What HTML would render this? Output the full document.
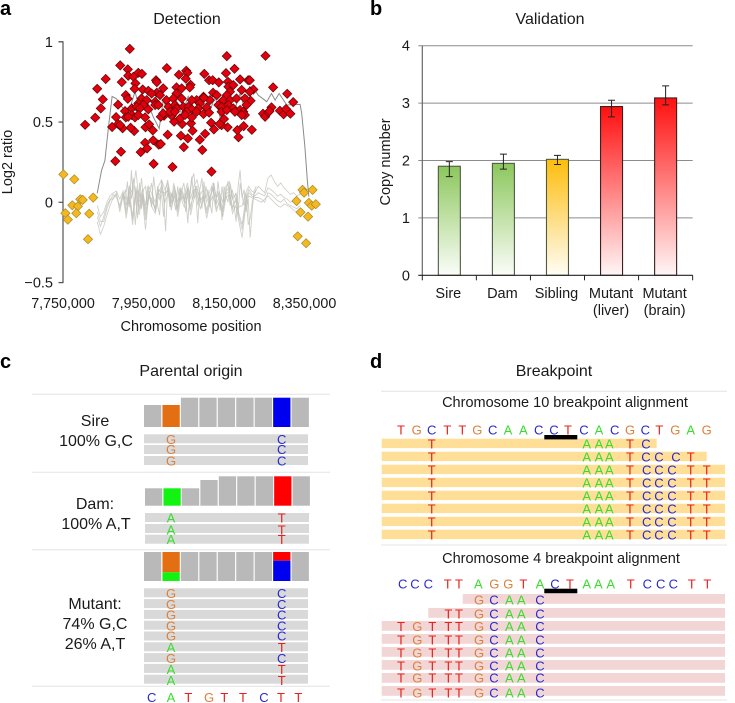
<!DOCTYPE html>
<html>
<head>
<meta charset="utf-8">
<title>Detection, validation, parental origin and breakpoint</title>
<style>
html,body{margin:0;padding:0;background:#fff;}
svg{display:block;font-family:"Liberation Sans",sans-serif;fill:#1a1a1a;}
</style>
</head>
<body>
<svg id="fig" xmlns="http://www.w3.org/2000/svg" width="735" height="703" viewBox="0 0 735 703">
<defs>
<linearGradient id="gGreen" x1="0" y1="0" x2="0" y2="1"><stop offset="0" stop-color="#8cc75c"/><stop offset="1" stop-color="#fbfdf9"/></linearGradient>
<linearGradient id="gYellow" x1="0" y1="0" x2="0" y2="1"><stop offset="0" stop-color="#fdbd0c"/><stop offset="1" stop-color="#fffdf6"/></linearGradient>
<linearGradient id="gRed" x1="0" y1="0" x2="0" y2="1"><stop offset="0" stop-color="#ff0f0f"/><stop offset="1" stop-color="#fff6f6"/></linearGradient>
</defs>
<text x="0" y="15" font-size="20" font-weight="bold" fill="#000">a</text>
<text x="370" y="15" font-size="20" font-weight="bold" fill="#000">b</text>
<text x="0" y="368" font-size="20" font-weight="bold" fill="#000">c</text>
<text x="370" y="368" font-size="20" font-weight="bold" fill="#000">d</text>
<text x="187" y="24" font-size="16" text-anchor="middle">Detection</text>
<text x="550" y="24" font-size="16" text-anchor="middle">Validation</text>
<text x="191" y="376" font-size="16" text-anchor="middle">Parental origin</text>
<text x="554" y="376" font-size="16" text-anchor="middle">Breakpoint</text>
<text transform="translate(12,162) rotate(-90)" font-size="14.5" text-anchor="middle">Log2 ratio</text>
<text x="191" y="331" font-size="14.5" text-anchor="middle">Chromosome position</text>
<text transform="translate(390,162) rotate(-90)" font-size="14.5" text-anchor="middle">Copy number</text>
<text x="95" y="426" font-size="16" text-anchor="middle">Sire</text>
<text x="96" y="446" font-size="16" text-anchor="middle">100% G,C</text>
<text x="95" y="509" font-size="16" text-anchor="middle">Dam:</text>
<text x="96" y="529" font-size="16" text-anchor="middle">100% A,T</text>
<text x="95" y="609" font-size="16" text-anchor="middle">Mutant:</text>
<text x="95" y="629" font-size="16" text-anchor="middle">74% G,C</text>
<text x="95" y="649" font-size="16" text-anchor="middle">26% A,T</text>
<text x="565" y="407" font-size="14.5" text-anchor="middle">Chromosome 10 breakpoint alignment</text>
<text x="561" y="563" font-size="14.5" text-anchor="middle">Chromosome 4 breakpoint alignment</text>
</svg>
<script>
// Panel a data
const redPos=[7916,8157,8253,7892,7911,8008,8056,8176,8155,8101,8038,8059,7937,7946,7912,7925,7856,7896,7930,7981,7983,8055,8113,8122,8137,8160,8190,8210,8214,8067,7835,7928,7948,8272,8307,7849,8322,7906,7911,7844,7887,7830,7805,7882,7872,7887,7894,7880,7975,8022,8119,7943,7954,7959,7974,7988,7993,8010,8043,8050,8060,8090,8096,8103,8125,8118,8186,8183,8199,8219,8159,8144,8139,8150,8072,8068,8070,8046,8041,8026,8020,8001,7993,7955,7964,7973,7927,7918,7898,7892,8247,8252,8260,8268,8263,8289,8298,8304,8315,8216,7962,7983,7999,8032,8045,8065,8099,8123,8161,8173,8194,8223,8214,8165,8157,7970,7991,8032,7945,7958,8007,8024,8045,8082,8090,8115,8132,8100,8148,8165,8181,8202,7979,8070,7937,7950,7979,7921,7933,7941,7962,7987,8012,8028,8049,8061,8086,8107,8136,8144,8161,8173,8190,8206,7904,8032,8070,7906,7921,7929,7937,7954,7999,8016,8028,8057,8082,8099,8113,8144,8157,8177,8198,8202,7912,8053,8194];
const redVal=[.956,.911,.913,.853,.828,.836,.82,.832,.805,.80,.795,.807,.807,.80,.788,.782,.768,.749,.741,.761,.749,.77,.761,.761,.747,.751,.766,.761,.761,.732,.707,.707,.703,.716,.676,.641,.624,.668,.645,.585,.608,.527,.483,.531,.469,.488,.315,.257,.239,.22,.191,.313,.371,.336,.386,.359,.363,.421,.415,.344,.398,.39,.326,.427,.454,.496,.405,.45,.475,.452,.467,.481,.488,.519,.446,.492,.529,.488,.523,.502,.539,.539,.533,.467,.486,.448,.444,.465,.461,.481,.552,.533,.56,.591,.568,.571,.548,.581,.552,.633,.695,.683,.71,.716,.71,.716,.658,.683,.72,.73,.70,.703,.689,.689,.668,.678,.668,.678,.647,.637,.637,.647,.647,.637,.616,.637,.668,.651,.637,.637,.647,.647,.627,.637,.616,.606,.606,.585,.595,.585,.579,.606,.595,.606,.595,.595,.585,.591,.606,.595,.606,.585,.575,.606,.568,.585,.579,.529,.544,.529,.544,.529,.554,.564,.564,.564,.564,.55,.558,.564,.575,.564,.564,.544,.533,.544,.544];
const yellowPos=[7751,7778,7825,7793,7799,7773,7787,7756,7783,7815,7762,7812,8345,8349,8370,8330,8361,8368,8378,8340,8359,8333,8354];
const yellowVal=[.174,.143,.029,.019,.015,-.019,-.025,-.068,-.068,-.071,-.108,-.23,.077,.06,.077,.008,-.004,-.021,-.012,-.062,-.089,-.212,-.255];
const darkPos=[7835,7846,7854,7863,7872,7883,7896,7912,7929,7941,7958,7974,7989,7999,8012,8028,8045,8061,8078,8094,8111,8128,8140,8157,8173,8190,8202,8214,8227,8235,8256,8268,8277,8287,8306,8339,8343,8351,8357,8361];
const darkVal=[.056,.20,.26,.47,.66,.645,.595,.55,.69,.575,.637,.533,.46,.637,.55,.66,.55,.66,.575,.637,.54,.66,.53,.637,.55,.68,.575,.72,.70,.668,.627,.678,.637,.678,.606,.61,.554,.346,.139,.035];
const palePos=[7835,7843,7851,7859,7867,7875,7883,7891,7899,7907,7915,7923,7931,7939,7947,7955,7963,7971,7979,7987,7995,8003,8011,8019,8027,8035,8043,8051,8059,8067,8075,8083,8091,8099,8107,8115,8123,8131,8139,8147,8155,8163,8171,8179,8187,8195,8203,8211,8219,8227,8235,8243,8251,8259,8267,8275,8283,8291,8299,8307,8315,8323,8331,8339];
const paleA=[-.02,-.09,-.06,0,.04,.06,.07,.02,.07,-.02,.1,.05,.2,0,.08,-.02,.1,.05,0,.1,.14,.08,.12,.03,.1,0,.09,.04,.12,.02,.1,.14,.05,.08,0,.07,.12,.03,.06,0,.1,.13,.02,.05,-.03,-.02,.05,.1,.07,.06,.1,.08,.06,.15,.17,.13,.1,.12,.09,.07,.05,.06,.04,.05];
const paleB=[-.12,-.2,-.15,-.08,-.02,.03,.05,-.04,.05,-.1,.04,-.14,.06,-.08,.03,-.17,.05,-.03,-.07,.03,.08,0,.05,-.05,.06,-.09,.03,-.03,.05,-.08,.02,.06,-.04,.02,-.1,0,.04,-.06,.02,-.09,.03,.05,-.07,-.02,-.12,-.22,-.05,.04,.03,.02,.01,0,.02,.04,.02,0,-.02,-.03,-.01,-.02,-.03,-.05,-.06,-.05];
const paleC=[-.06,-.12,-.12,-.04,.01,.05,.03,-.02,.06,-.05,.07,-.09,.08,-.03,.06,-.08,.07,0,-.03,.06,.1,.04,.09,-.01,.08,-.04,.06,0,.09,-.03,.06,.1,0,.05,-.05,.04,.08,-.01,.04,-.05,.07,.09,-.03,.01,-.07,-.14,0,.08,.05,.04,.06,.05,.04,.09,.08,.06,.04,.05,.03,.02,0,.01,-.02,0];
const paleD=[-.09,-.15,-.09,-.02,.02,.02,.06,-.06,.04,-.07,.02,-.11,.1,-.05,.05,-.11,.03,.02,-.05,.08,.06,.06,.07,-.03,.04,-.06,.08,.02,.07,-.05,.08,.08,.02,.03,-.07,.02,.1,-.04,0,-.06,.05,.07,-.05,.03,-.09,-.17,-.02,.06,.04,.03,.03,.02,0,.06,.05,.03,.01,0,.02,-.01,-.02,-.03,-.04,-.02];
const paleFinePos=[7900,7905,7910,7915,7920,7925,7930,7935,7940,7945,7950,7955,7960,7965,7970,7975,7980,7985,7990,7995,8000,8005,8010,8015,8020,8025,8030,8035,8040,8045,8050,8055,8060,8065,8070,8075,8080,8085,8090,8095,8100,8105,8110,8115,8120,8125,8130,8135,8140,8145,8150,8155,8160,8165,8170,8175,8180,8185,8190,8195,8200,8205,8210,8215,8220,8225,8230];
const paleE=[.05,.02,.13,-.03,.2,0,-.14,.08,.03,.15,.02,-.05,.1,.05,-.03,.16,.06,-.02,-.08,.14,.03,-.18,.1,.05,0,.12,.06,-.04,.09,.02,.04,-.06,.1,.03,.14,.18,.05,-.13,.08,.15,0,.1,.04,-.03,.1,.06,-.02,.13,.03,-.11,.1,.04,0,.12,.05,-.02,-.12,.1,.2,.03,.08,-.06,.02,-.22,-.05,.07,.1];
const paleF=[.03,.08,-.02,.1,.02,.15,.04,-.1,.12,-.04,.08,.1,-.02,.06,.12,0,-.06,.1,.02,.05,-.09,.08,.14,-.03,.06,.02,-.05,.1,0,.07,.12,.03,-.13,.06,.16,.02,.1,-.02,.06,-.04,.13,.02,.08,0,-.07,.12,.03,.07,-.05,.1,0,.06,.13,-.02,.08,.03,.06,-.08,.12,.04,-.02,.06,-.14,-.1,0,.05,.08];
const yTicksA=[1,0.5,0,-0.5];
const yTickLabelsA=['1','0.5','0','\u22120.5'];
const xTicksA=[7750,7950,8150,8350];
const xTickLabelsA=['7,750,000','7,950,000','8,150,000','8,350,000'];

// Panel b data
const categories=['Sire','Dam','Sibling','Mutant','Mutant'];
const categorySub=['','','','(liver)','(brain)'];
const copyNumber=[1.9,1.95,2.02,2.94,3.09];
const errLow=[1.72,1.85,1.93,2.76,2.97];
const errHigh=[1.98,2.11,2.09,3.05,3.3];
const barFills=['gGreen','gGreen','gYellow','gRed','gRed'];
const yTicksB=[0,1,2,3,4];

const svg=document.getElementById('fig');
const NS='http://www.w3.org/2000/svg';
function mk(tag,attrs,parent){
  const e=document.createElementNS(NS,tag);
  for(const k in attrs){e.setAttribute(k,attrs[k]);}
  (parent||svg).appendChild(e);
  return e;
}
function group(name){
  const g=mk('g',{});
  
  
  return g;
}

// ---------- Panel a ----------
const xA=k=>63+(k-7750)*0.4025;
const yA=v=>202.3-v*160.5;
const gA=group('detection-scatter-chart');
const axA=mk('path',{d:`M58.5 ${yA(1)}H63V${yA(-0.5)}H58.5`,fill:'none',stroke:'#555','stroke-width':1.2},gA);


yTicksA.forEach((t,i)=>{
  const tk=mk('line',{x1:58.5,x2:63,y1:yA(t),y2:yA(t),stroke:'#555','stroke-width':1.2},gA);
  
  
  const lb=mk('text',{x:53,y:yA(t)+5,'font-size':14.5,'text-anchor':'end'},gA);
  lb.textContent=yTickLabelsA[i];
  
  
});
xTicksA.forEach((t,i)=>{
  const lb=mk('text',{x:xA(t),y:308,'font-size':14.3,'text-anchor':'middle'},gA);
  lb.textContent=xTickLabelsA[i];
  
  
});
function linePath(xs,ys){return xs.map((x,i)=>(i?'L':'M')+xA(x).toFixed(1)+' '+yA(ys[i]).toFixed(1)).join('');}
[paleA,paleB,paleC,paleD].forEach(s=>{
  const p=mk('path',{d:linePath(palePos,s),fill:'none',stroke:'#c2c2bb','stroke-width':.9,'stroke-opacity':.75},gA);
  
  
});
[paleE,paleF].forEach(s=>{
  const p=mk('path',{d:linePath(paleFinePos,s),fill:'none',stroke:'#bdbdb6','stroke-width':.9,'stroke-opacity':.75},gA);
  
  
});
const dk=mk('path',{d:linePath(darkPos,darkVal),fill:'none',stroke:'#8a8a8a','stroke-width':1},gA);


function diamond(x,y,fill,stroke,name){
  const r=4.6;
  const d=mk('path',{d:`M${x} ${y-r}L${x+r} ${y}L${x} ${y+r}L${x-r} ${y}Z`,fill:fill,stroke:stroke,'stroke-width':.7},gA);
  
  
}
yellowPos.forEach((p,i)=>diamond(+xA(p).toFixed(1),+yA(yellowVal[i]).toFixed(1),'#f6b81f','#a98a2c','normal-point'));
redPos.forEach((p,i)=>diamond(+xA(p).toFixed(1),+yA(redVal[i]).toFixed(1),'#e2000e','#5e0505','amplified-point'));

// ---------- Panel b ----------
const yB=v=>275.3-v*57.4;
const bandB=54.07;
const xB0=422.3;
const gB=group('validation-bar-chart');
yTicksB.forEach(t=>{
  if(t>0){
    const g=mk('line',{x1:xB0-4,x2:692.7,y1:yB(t),y2:yB(t),stroke:'#8c8c8c','stroke-width':1},gB);
    
    
  }
  const lb=mk('text',{x:410,y:yB(t)+5,'font-size':14.5,'text-anchor':'end'},gB);
  lb.textContent=String(t);
  
  
});
const axY=mk('line',{x1:xB0,x2:xB0,y1:yB(4),y2:yB(0),stroke:'#666','stroke-width':1.2},gB);


copyNumber.forEach((v,i)=>{
  const cx=xB0+bandB*(i+.5);
  const b=mk('rect',{x:cx-11,y:yB(v),width:22,height:yB(0)-yB(v),fill:`url(#${barFills[i]})`,stroke:i<3?'#4f5a45':'#3a2020','stroke-width':1.1},gB);
  
  
  const er=mk('path',{d:`M${cx-3.5} ${yB(errHigh[i])}H${cx+3.5}M${cx} ${yB(errHigh[i])}V${yB(errLow[i])}M${cx-3.5} ${yB(errLow[i])}H${cx+3.5}`,fill:'none',stroke:'#222','stroke-width':1},gB);
  
  
  const off=i===3?-.5:-1;
  const lb=mk('text',{x:cx+off,y:298,'font-size':14.5,'text-anchor':'middle'},gB);
  lb.textContent=categories[i];
  
  
  if(categorySub[i]){
    const s=mk('text',{x:cx+off,y:315,'font-size':14.5,'text-anchor':'middle'},gB);
    s.textContent=categorySub[i];
    
    
  }
});
for(let i=0;i<=5;i++){
  const tk=mk('line',{x1:xB0+bandB*i,x2:xB0+bandB*i,y1:yB(0),y2:yB(0)+5,stroke:'#222','stroke-width':1},gB);
  
  
}
const axX=mk('line',{x1:xB0-4,x2:692.7,y1:yB(0),y2:yB(0),stroke:'#222','stroke-width':1.1},gB);



// ---------- Shared helpers for c and d ----------
const base={T:'#e8211c',A:'#3bdc2f',C:'#2a2acb',G:'#d9813f'};
function letters(seq,xs,y,parent,size){
  [...seq].forEach((c,i)=>{
    const t=mk('text',{x:xs[i],y:y,'font-size':size||13,'text-anchor':'middle',fill:base[c]},parent);
    t.textContent=c;
    
    
  });
}
function rule(x1,x2,y,parent){
  const l=mk('line',{x1:x1,x2:x2,y1:y,y2:y,stroke:'#e4e4e4','stroke-width':1},parent);
  
  
}
function box(x,y,w,h,fill,parent,name){
  const r=mk('rect',{x:x,y:y,width:w,height:h,fill:fill},parent);
  
  
}

// ---------- Panel c ----------
const gC=group('parental-origin-panel');
[394.3,472.3,549.7,686.3].forEach(y=>rule(32,330,y,gC));
const GREY='#b9b9b9',ORANGE='#e36f12',LIME='#12f312',BLUE='#0000f0',RED='#ff0000';
function coverage(x0,top,bottom,tops,special){
  tops.forEach((t,i)=>{
    const x=x0+i*18.45;
    if(special[i]){
      let y=t;
      special[i].forEach(s=>{box(x,y,17.3,s[0],s[1],gC,'variant-coverage-bar');y+=s[0];});
    }else box(x,t,17.3,bottom-t,GREY,gC,'coverage-bar');
  });
}
coverage(144,397.7,427,[405,405,397.7,397.7,397.7,397.7,397.7,397.7,397.7],{1:[[22,ORANGE]],7:[[29.3,BLUE]]});
coverage(145,476.3,505.7,[488.3,488.3,488.3,480,476.3,476.3,476.3,476.3,476.3],{1:[[17.4,LIME]],7:[[29.4,RED]]});
coverage(144,552,581,[552,552,552,552,552,552,552,552,552],{1:[[20.3,ORANGE],[8.7,LIME]],7:[[8.7,RED],[20.3,BLUE]]});
function reads(x0,tops,baselines,left,right,xl,xr,bases){
  tops.forEach((t,i)=>{
    box(x0,t,164,9,'#d9d9d9',gC,'read-bar');
  });
  baselines.forEach((b,i)=>letters(bases[i],[xl,xr],b,gC,13));
}
reads(144,[434.3,445,456],[444,454,465.3],0,0,171,281.7,['GC','GC','GC']);
reads(145,[513,524,534.7],[522.3,534.7,544],0,0,171,281.7,['AT','AT','AT']);
reads(144,[588.3,599.1,609.9,620.7,631.5,642.3,653.1,663.9,674.7],[598,609,619.7,630.3,640.7,652,663,674,685],0,0,171,281.7,['GC','GC','GC','GC','GC','AT','GC','AT','AT']);
letters('CATGTTCTT',[151.7,171,188.3,209,224.3,243,264,281,298.3],702,gC,13);

// ---------- Panel d ----------
const gD=group('breakpoint-panel');
const zx=a=>a.map(v=>+(360+v/3).toFixed(1));
[391.3,545,700].forEach(y=>rule(381,727,y,gD));
// chromosome 10
letters('TGCTTGCAACCTCACGCTGAG',zx([123,170,215,262,307,352,398,444,490,536,582,624,672,717,764,810,856,898,946,992,1040]),434.3,gD,13);
const yEnds=[656.7,706.7,725,725,725,725,725,725];
const yBase=[448.3,461.3,474.7,487.3,500.3,513.3,526.3,539.3];
yEnds.forEach((e,i)=>{
  box(381.7,438.7+i*13,e-381.7,9.4,'#ffdf98',gD,'chromosome-10-read');
});
yBase.forEach((b,i)=>{
  if(i===0){letters('TAAATC',zx([215,680,717,748,810,858]),b,gD,13);}
  else if(i===1){letters('TAAATCCCT',zx([215,680,717,748,810,858,897,948,992]),b,gD,13);}
  else{letters('TAAATCCCTT',zx([215,680,717,748,810,860,897,936,992,1040]),b,gD,13);}
});
box(544.3,435,33,4.4,'#000',gD,'chromosome-10-breakpoint-marker');
// chromosome 4
letters('CCCTTAGGTACTAAATCCCTT',zx([128,165,205,263,297,355,403,445,490,540,585,630,680,715,752,812,862,902,940,995,1042]),588.7,gD,13);
const pTop=[594,608,621,634,647,660,673,686];
const pStart=[462.7,428.3,381.7,381.7,381.7,381.7,381.7,381.7];
const pBase=[604.7,618.7,631,644.7,657.3,670.7,682.7,697.3];
pTop.forEach((t,i)=>{
  box(pStart[i],t,725-pStart[i],9.8,'#f2d6d6',gD,'chromosome-4-read');
});
pBase.forEach((b,i)=>{
  if(i===0){letters('GCAAC',zx([357,402,448,484,540]),b,gD,13);}
  else if(i===1){letters('TTGCAAC',zx([265,297,357,402,448,484,540]),b,gD,13);}
  else{letters('TGTTTGCAAC',zx([123,172,217,265,297,357,402,448,484,540]),b,gD,13);}
});
box(544.3,588.7,33,4.6,'#000',gD,'chromosome-4-breakpoint-marker');
</script>
</body>
</html>
